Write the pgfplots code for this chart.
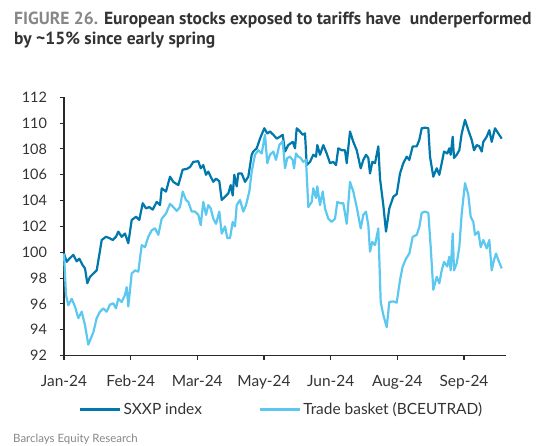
\documentclass[border=0pt]{standalone}
\usepackage{pgfplots}
\pgfplotsset{compat=1.18}
\usepackage{pgfplotstable}
\usepackage{fontspec}
\setmainfont{Lato}
\newfontfamily\titlefont{PT Sans}
\definecolor{sxxp}{RGB}{0,120,172}
\definecolor{trade}{RGB}{92,200,240}
\definecolor{txt}{RGB}{51,51,51}
\definecolor{figgray}{RGB}{135,135,135}
\definecolor{axgray}{RGB}{40,40,40}

\pgfplotstableread{
x y
64 99.9
66.7 99.26
69.3 99.5
73.3 99.8
76.7 99.3
79.3 99.5
82.7 99.0
85 98.75
87.3 97.6
90 98.1
93.3 98.35
96.7 98.6
99.3 99.8
101.7 100.95
106 101.2
109.3 101.1
112.7 100.95
116 101.2
118.3 101.6
121.7 101.2
125 101.45
128.3 100.7
131.7 102.5
136 102.75
139.3 102.5
142.7 103.8
146 103.4
149.3 103.5
152.7 103.3
156.7 103.9
160 103.65
161.7 104.95
166 104.7
170 105.85
173.3 105.45
178.3 105.2
182.7 106.4
186.7 106.45
190 106.6
193.3 107.0
198.3 107.05
200.7 106.5
203.3 106.75
206 106.0
208.3 106.25
210.7 105.85
213.3 105.45
216 105.7
219.3 105.5
221.7 104.05
225 104.3
228.3 104.55
230.7 105.2
232.7 104.4
234.3 106.0
236.7 105.1
238.3 106.1
241.7 106.1
245 105.45
248.3 105.85
251.7 107.55
253.3 107.8
256.7 108.05
260 108.8
264.3 109.6
267.3 109.2
270 109.35
273.3 109.1
276.7 108.8
280 108.95
282.7 109.1
285 107.8
288.3 108.3
292.7 108.55
295 108.05
296.7 109.6
300 109.35
302.7 109.1
305 109.2
306.7 106.75
310 107.0
313.3 107.55
316 107.4
317.3 108.3
320 107.55
323.3 108.3
326.7 107.65
330 106.9
333.3 107.0
336 106.75
338.3 108.05
341.7 107.9
345 107.9
346.7 106.9
350 109.35
353.3 108.55
356.7 107.9
360.7 106.5
363.3 107.15
366 107.55
368.3 107.3
370 106.1
372.3 107.0
375 106.9
378.3 108.2
380 105.7
383.3 103.65
386 101.6
389.3 103.4
393.3 104.3
396.7 104.5
400 106.1
403.3 106.9
406.7 107.4
409.3 107.15
412.7 108.2
416.7 108.2
419.3 108.7
421.7 109.6
425 109.65
428.3 109.6
430 107.4
433.3 105.85
436.7 106.5
439.3 106.0
441.7 106.9
444 107.8
447.3 107.65
449.3 108.05
450.7 107.55
452.7 108.95
454 107.3
456.7 107.55
459.3 107.9
461.7 109.2
465 110.25
468.3 109.45
471.7 108.7
474 107.9
476.7 108.3
479.3 108.2
481.7 107.8
483.3 108.55
486.7 108.95
489.3 109.45
491.7 108.55
495 109.6
498.3 109.2
501.7 108.8
}\sxxp

\pgfplotstableread{
x y
64 99.9
66 96.7
68.3 95.9
71.7 96.4
75 95.8
78.3 94.9
81.7 95.4
85 94.35
88.3 92.85
90.7 93.3
93.3 93.8
96.7 94.9
100 95.4
103.3 95.65
106.7 95.4
110 95.95
113.3 96.05
116 95.65
118.3 96.4
121.7 96.15
125 96.7
126.7 97.3
128.3 95.8
131.7 98.35
135 98.6
138.3 98.5
141.7 100.55
145 100.4
148.3 101.2
151.7 101.7
155 101.85
158.3 101.35
161.7 102.6
166 103.0
170 103.75
173.3 103.5
176.7 103.2
180 103.5
182.7 104.7
186 104.05
188.3 103.9
191.7 103.15
195 103.15
198.3 102.9
200.7 102.1
203.3 103.9
206 102.9
208.3 103.65
210.7 103.4
213.3 102.6
216 102.2
219.3 103.15
221.7 101.45
225 102.0
227.3 101.1
230 101.1
232.7 102.35
235 102.0
236.7 103.65
240 104.05
243.3 103.15
246 103.65
249.3 104.7
251.7 106.25
255 107.55
258.3 107.9
261.7 107.65
265 109.1
267.3 106.9
270 107.55
273.3 107.8
276 107.15
279.3 108.3
282.7 108.6
285 106.5
287.3 107.3
290 107.4
292.7 107.15
294 106.5
296 107.65
298.3 107.4
300.7 107.3
303.3 107.0
306 107.15
308.3 103.5
311.7 103.9
313.3 104.95
316 104.2
317.3 105.1
320 103.65
322.7 104.7
325 103.4
328.3 102.6
331.7 102.35
335 102.6
337.3 103.9
340 103.8
343.3 103.8
346.7 102.2
350 105.45
353.3 104.7
356.7 103.5
360.7 101.85
363.3 102.9
366 103.15
368.3 102.1
370 100.05
372.3 100.8
375 100.55
378.3 101.85
380.7 96.15
383.3 95.15
386.7 94.2
389.3 96.15
393.3 96.2
396.7 96.1
400 97.85
402.7 98.9
406 99.5
409.3 99.9
412.7 101.2
416.7 101.35
419.3 101.95
421.7 103.05
425 103.15
428.3 103.05
430.7 100.4
433.3 97.1
436.7 98.1
439.3 97.6
441.7 98.6
444 99.25
447.3 98.9
449.3 99.65
450.7 98.6
452.7 101.45
454 98.6
456.7 99.15
459.3 100.4
461.7 103.0
465 105.35
468.3 104.45
470.7 102.75
473.3 102.35
475 101.35
478.3 101.6
480.7 100.4
483.3 100.95
486.7 100.3
489.3 100.95
491.7 98.6
494 99.4
496 99.9
498.3 99.4
501.7 98.75
}\trade

\begin{document}
\begin{tikzpicture}[x=1bp,y=1bp]
\useasboundingbox (0,0) rectangle (550,446);
\node[anchor=base west, inner sep=0, text=txt, font=\titlefont\fontsize{17.6}{21}\selectfont\bfseries] at (14,421.4)
  {\textcolor{figgray}{FIGURE 26.} European stocks exposed to tariffs have\ \ underperformed};
\node[anchor=base west, inner sep=0, text=txt, font=\titlefont\fontsize{17.6}{21}\selectfont\bfseries] at (14,401.4)
  {by \textasciitilde15\% since early spring};
\node[anchor=base west, inner sep=0, text=figgray, font=\fontsize{11.5}{13}\selectfont] at (13,3.5)
  {Barclays Equity Research};
\begin{axis}[
  at={(64,70)}, anchor=south west,
  scale only axis, width=442bp, height=258.3bp,
  xmin=64, xmax=506, ymin=92, ymax=112,
  axis x line*=bottom, axis y line*=left,
  axis line style={axgray, line width=1.3pt, -},
  every tick/.style={axgray, line width=1.1pt},
  tick align=outside, major tick length=4.5bp,
  xtick={64,130.7,197.3,264,330.7,397.3,464},
  xticklabels={Jan-24,Feb-24,Mar-24,May-24,Jun-24,Aug-24,Sep-24},
  ytick={92,94,...,112},
  /pgf/number format/assume math mode=true,
  yticklabel style={text=txt, font=\fontsize{14.5}{16}\selectfont, xshift=-9bp},
  xticklabel style={text=txt, font=\fontsize{15.5}{17}\selectfont, yshift=-12bp},
  legend columns=2,
  legend style={draw=none, fill=none, inner sep=0pt, at={(0.034,-0.209)}, anchor=west,
    font=\fontsize{15.5}{17}\selectfont, text=txt,
    /tikz/every even column/.append style={column sep=55bp}},
  legend image code/.code={\draw[#1, line width=2.4bp] (0bp,0bp) -- (40bp,0bp);},
  clip=false,
]
\addplot[sxxp, line width=2.2bp, line join=round] table {\sxxp};
\addlegendentry{SXXP index}
\addplot[trade, line width=2.2bp, line join=round] table {\trade};
\addlegendentry{Trade basket (BCEUTRAD)}
\end{axis}
\end{tikzpicture}
\end{document}
